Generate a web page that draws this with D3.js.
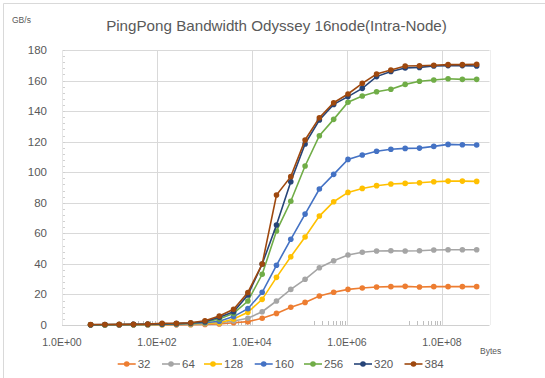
<!DOCTYPE html>
<html><head><meta charset="utf-8">
<script src="https://cdn.jsdelivr.net/npm/d3@7"></script>
<style>
html,body{margin:0;padding:0;background:#fff;}
svg text{font-family:"Liberation Sans","DejaVu Sans",sans-serif;fill:#595959;}
</style></head>
<body>
<svg id="c" width="545" height="378"></svg>
<script>
// Message sizes (bytes) = 2^2 .. 2^29
const exponents = d3.range(2, 30);
const bytes = exponents.map(e => Math.pow(2, e));
const seriesNames = ["32", "64", "128", "160", "256", "320", "384"];
const colors = ["#ED7D31", "#A5A5A5", "#FFC000", "#4472C4", "#70AD47", "#264478", "#9E480E"];
const s32  = [0.1,0.1,0.1,0.1,0.1,0.1,0.1,0.2,0.4,0.7,1.5,2.2,4.4,7.6,11.6,14.8,19.0,21.4,23.3,24.2,24.9,25.1,25.3,24.9,25.1,25.1,25.1,25.1];
const s64  = [0.1,0.1,0.1,0.2,0.2,0.3,0.3,0.5,0.9,1.3,2.6,4.4,8.7,15.7,23.3,29.9,37.5,42.1,45.8,47.6,48.4,48.6,48.4,48.6,49.1,49.3,49.3,49.3];
const s128 = [0.1,0.1,0.2,0.2,0.3,0.4,0.5,0.7,1.1,1.5,3.9,8.3,16.8,31.2,44.7,57.6,71.3,80.7,86.8,89.4,91.2,92.3,92.7,93.1,93.8,94.2,94.2,94.0];
const s160 = [0.1,0.2,0.2,0.3,0.4,0.5,0.7,0.9,1.5,2.5,5.5,10.7,21.4,39.1,56.1,72.6,89.0,98.6,108.4,111.3,113.7,115.0,115.6,115.8,116.9,118.2,118.0,117.8];
const s256 = [0.2,0.2,0.3,0.3,0.4,0.6,0.8,1.1,2.0,3.9,7.6,15.7,33.2,61.5,81.0,104.1,123.9,134.6,145.8,149.9,152.7,154.3,157.5,159.5,160.4,161.2,160.8,160.8];
const s320 = [0.2,0.3,0.3,0.4,0.5,0.7,0.9,1.3,2.2,5.0,8.7,19.6,39.9,65.5,93.8,118.5,134.2,144.4,149.5,154.9,162.6,165.9,168.2,168.6,169.5,169.8,169.8,169.5];
const s384 = [0.3,0.35,0.4,0.5,0.6,1.1,1.1,1.5,2.8,5.9,10.3,21.3,39.9,85.1,97.1,121.1,135.7,145.5,151.2,158.2,164.3,166.9,169.5,169.7,170.0,170.4,170.4,170.6];
const seriesValues = [s32, s64, s128, s160, s256, s320, s384];
const yTicks = [0,20,40,60,80,100,120,140,160,180];
const xTicks = [1e0,1e2,1e4,1e6,1e8];
const xTickLabels = ["1.0E+00","1.0E+02","1.0E+04","1.0E+06","1.0E+08"];
const titleText = "PingPong Bandwidth Odyssey 16node(Intra-Node)";
const yUnit = "GB/s";
const xUnit = "Bytes";

const svg = d3.select("#c");
const L = 62, R = 489.5, T = 50, B = 325;
const x = d3.scaleLog().domain([1, 1e9]).range([L, R]);
const y = d3.scaleLinear().domain([0, 180]).range([B, T]);
const grid = "#d9d9d9";

// chart border (top/left visible)
svg.append("line").attr("x1",3.5).attr("x2",545).attr("y1",3.5).attr("y2",3.5).attr("stroke",grid);
svg.append("line").attr("x1",3.5).attr("x2",3.5).attr("y1",3.5).attr("y2",378).attr("stroke",grid);

// horizontal gridlines
svg.append("g").selectAll("line").data(yTicks.filter(d=>d>0)).join("line")
  .attr("x1",L).attr("x2",R).attr("y1",d=>Math.round(y(d))+0.5).attr("y2",d=>Math.round(y(d))+0.5)
  .attr("stroke",grid).attr("stroke-width",1);
// vertical gridlines
svg.append("g").selectAll("line").data(xTicks.slice(1)).join("line")
  .attr("x1",d=>Math.round(x(d))+0.5).attr("x2",d=>Math.round(x(d))+0.5).attr("y1",T).attr("y2",B)
  .attr("stroke",grid).attr("stroke-width",1);
svg.append("line").attr("x1",Math.round(R)+0.5).attr("x2",Math.round(R)+0.5).attr("y1",T).attr("y2",B).attr("stroke","#eeeeee");

// y minor ticks (inside, left)
const yMinor = d3.range(0, 181, 4);
svg.append("g").selectAll("line").data(yMinor).join("line")
  .attr("x1",L).attr("x2",L+3).attr("y1",d=>Math.round(y(d))+0.5).attr("y2",d=>Math.round(y(d))+0.5)
  .attr("stroke","#d0d0d0");
// left axis line
svg.append("line").attr("x1",L+0.5).attr("x2",L+0.5).attr("y1",T).attr("y2",B).attr("stroke","#e6e6e6");

// x minor ticks (odd decades)
const xMinor = [];
[1,3,5,7].forEach(k => { for (let m=2;m<=9;m++) xMinor.push(m*Math.pow(10,k)); });
svg.append("g").selectAll("line").data(xMinor).join("line")
  .attr("x1",d=>Math.round(x(d))+0.5).attr("x2",d=>Math.round(x(d))+0.5).attr("y1",B-4).attr("y2",B)
  .attr("stroke","#bfbfbf");

// x axis line
svg.append("line").attr("x1",L).attr("x2",R).attr("y1",B+0.5).attr("y2",B+0.5).attr("stroke","#d0d0d0");

// y tick labels
svg.append("g").selectAll("text").data(yTicks).join("text")
  .attr("x",47).attr("y",d=>y(d)+4).attr("text-anchor","end").attr("font-size",11.5).text(d=>d);
// x tick labels
svg.append("g").selectAll("text").data(xTicks).join("text")
  .attr("x",d=>x(d)).attr("y",346).attr("text-anchor","middle").attr("font-size",10.5).text((d,i)=>xTickLabels[i]);

// units
svg.append("text").attr("x",12).attr("y",23).attr("font-size",8.5).text(yUnit);
svg.append("text").attr("x",480).attr("y",354).attr("font-size",8.5).text(xUnit);

// title
const t = svg.append("text").attr("x",276.5).attr("y",31).attr("text-anchor","middle").attr("font-size",15).text(titleText);
const tw = t.node().getComputedTextLength();
t.attr("font-size", 15*341/tw);

// series
const line = d3.line().x((d,i)=>x(bytes[i])).y(d=>y(d));
seriesValues.forEach((vals, si) => {
  const g = svg.append("g");
  g.append("path").attr("d", line(vals)).attr("fill","none").attr("stroke",colors[si]).attr("stroke-width",1.6);
  g.selectAll("circle").data(vals).join("circle")
    .attr("cx",(d,i)=>x(bytes[i])).attr("cy",d=>y(d)).attr("r",2.8).attr("fill",colors[si]);
});

// legend
const legX = [126.7,171,213,263.7,313,363,413.5];
const lg = svg.append("g");
seriesNames.forEach((n, i) => {
  const cx = legX[i], cy = 364;
  lg.append("line").attr("x1",cx-9).attr("x2",cx+9).attr("y1",cy).attr("y2",cy).attr("stroke",colors[i]).attr("stroke-width",1.6);
  lg.append("circle").attr("cx",cx).attr("cy",cy).attr("r",2.8).attr("fill",colors[i]);
  lg.append("text").attr("x",cx+11).attr("y",cy+4).attr("font-size",11.5).text(n);
});
</script>
</body></html>
